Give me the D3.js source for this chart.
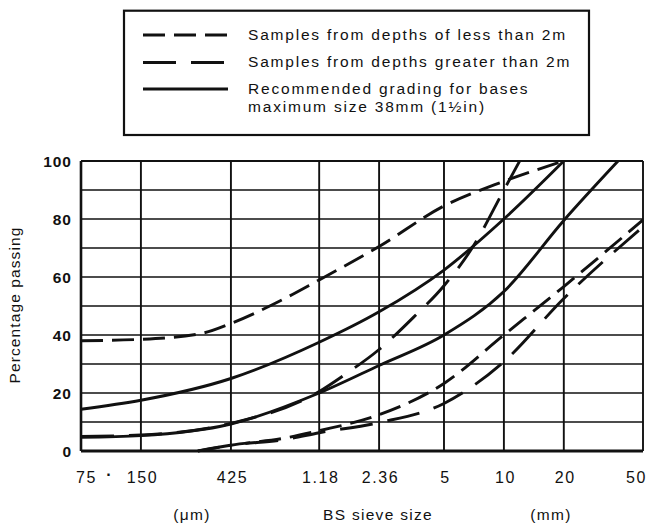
<!DOCTYPE html>
<html><head><meta charset="utf-8">
<script src="https://cdn.jsdelivr.net/npm/d3@7"></script>
<style>
body{margin:0;background:#fff}
svg{display:block}
text{font-family:"Liberation Sans",Arial,Helvetica,sans-serif;fill:#111}
</style>
</head><body><svg id="c" width="647" height="523"></svg>
<script>
// ---- data ----
const sieveSizes = [0.075, 0.15, 0.425, 1.18, 2.36, 5, 10, 20, 50];
const sieveLabels = ["75", "150", "425", "1.18", "2.36", "5", "10", "20", "50"];
const yTickValues = [0, 20, 40, 60, 80, 100];
const yGridValues = [0, 10, 20, 30, 40, 50, 60, 70, 80, 90, 100];

const lessUpperSize = [0.075, 0.15, 0.3, 0.425, 0.69, 1.18, 2.36, 5, 10, 20];
const lessUpperPct  = [38, 38.5, 40.5, 44, 50.5, 59, 70.5, 84.5, 93, 100];
const lessLowerSize = [0.29, 0.425, 0.8, 1.18, 2.36, 5, 10, 20, 50];
const lessLowerPct  = [0, 2, 4.5, 7, 12.5, 23.3, 40, 56.7, 79.7];

const greaterSteepSize = [0.075, 0.15, 0.425, 1.18, 1.6, 2.36, 3.5, 5, 7, 10, 12];
const greaterSteepPct  = [5, 5.5, 9.5, 20.5, 26.5, 35, 46, 57, 70.5, 90, 100];
const greaterLowerSize = [0.29, 0.425, 0.8, 1.18, 2.36, 5, 10, 20, 50];
const greaterLowerPct  = [0, 2, 4, 6.3, 9.8, 16.4, 30.8, 52.6, 77.3];

const recUpperSize = [0.075, 0.15, 0.425, 1.18, 2.36, 5, 10, 20];
const recUpperPct  = [14.4, 17.5, 25, 37.5, 48, 62.4, 80, 100];
const recLowerSize = [0.075, 0.15, 0.425, 1.18, 2.36, 5, 10, 20, 37.5];
const recLowerPct  = [4.7, 5.3, 9.3, 20, 29.5, 40, 55, 79.5, 100];

const legendLabels = [
  ["Samples from depths of less than 2m"],
  ["Samples from depths greater than 2m"],
  ["Recommended grading for bases", "maximum size 38mm (1\u00BDin)"]
];
const yTitle = "Percentage passing";
const xTitle = "BS sieve size";
const unitLeft = "(\u03BCm)";
const unitRight = "(mm)";

// ---- styles ----
const SHORT = "22,9", LONG = "33,15";
const svg = d3.select("#c");

const x = d3.scaleLog().domain([0.075, 50]).range([81, 643]);
const y = d3.scaleLinear().domain([0, 100]).range([451, 161]);

// grid
const g = svg.append("g");
g.selectAll("line.h").data(yGridValues).enter().append("line")
  .attr("x1", x(0.075)).attr("x2", x(50))
  .attr("y1", d => y(d)).attr("y2", d => y(d))
  .attr("stroke", "#111").attr("stroke-width", d => d === 0 ? 2.8 : (d === 100 ? 2 : 1.7));
g.selectAll("line.v").data(sieveSizes).enter().append("line")
  .attr("x1", d => x(d)).attr("x2", d => x(d))
  .attr("y1", y(0)).attr("y2", y(100))
  .attr("stroke", "#111").attr("stroke-width", (d, i) => (i === 0) ? 2.6 : 1.9);

// curves
const line = d3.line().x(d => x(d[0])).y(d => y(d[1])).curve(d3.curveMonotoneX);
const series = [
  [lessUpperSize, lessUpperPct, SHORT],
  [lessLowerSize, lessLowerPct, SHORT],
  [greaterSteepSize, greaterSteepPct, LONG],
  [greaterLowerSize, greaterLowerPct, LONG],
  [recUpperSize, recUpperPct, null],
  [recLowerSize, recLowerPct, null]
];
series.forEach(([s, p, dash]) => {
  const path = svg.append("path")
    .attr("d", line(s.map((v, i) => [v, p[i]])))
    .attr("fill", "none").attr("stroke", "#111").attr("stroke-width", 2.9);
  if (dash) path.attr("stroke-dasharray", dash);
});

// y axis labels
const yAxis = svg.append("g").attr("transform", `translate(${x(0.075) - 9},0)`)
  .call(d3.axisLeft(y).tickValues(yTickValues).tickSize(0).tickPadding(0));
yAxis.select(".domain").remove();
yAxis.selectAll("text").attr("font-size", 15.5).attr("letter-spacing", 1).attr("font-weight", "bold")
  .attr("dy", "0.36em").style("font-family", '"Liberation Sans",Arial,sans-serif').attr("fill", "#111");

// x axis labels
const xAxis = svg.append("g").attr("transform", `translate(0,${y(0)})`)
  .call(d3.axisBottom(x).tickValues(sieveSizes).tickFormat((d, i) => sieveLabels[i]).tickSize(0).tickPadding(0));
xAxis.select(".domain").remove();
xAxis.selectAll("text").attr("font-size", 16).attr("letter-spacing", 1.6)
  .attr("y", 32).attr("dy", 0).style("font-family", '"Liberation Sans",Arial,sans-serif').attr("fill", "#111")
  .attr("dx", (d, i) => i === 0 ? 5 : (i === sieveSizes.length - 1 ? -7 : 1));
svg.append("text").attr("x", (x(0.075) + x(0.15)) / 2 - 2).attr("y", 480).attr("text-anchor", "middle")
  .attr("font-size", 16).attr("font-weight", "bold").text("\u00B7");

// axis titles
svg.append("text").attr("transform", "translate(20,305) rotate(-90)").attr("text-anchor", "middle")
  .attr("font-size", 15.5).attr("letter-spacing", 1.1).text(yTitle);
svg.append("text").attr("x", 378).attr("y", 520).attr("text-anchor", "middle")
  .attr("font-size", 15.5).attr("letter-spacing", 1.3).text(xTitle);
svg.append("text").attr("x", 192).attr("y", 520).attr("text-anchor", "middle")
  .attr("font-size", 15.5).attr("letter-spacing", 1.3).text(unitLeft);
svg.append("text").attr("x", 551).attr("y", 520).attr("text-anchor", "middle")
  .attr("font-size", 15.5).attr("letter-spacing", 1.3).text(unitRight);

// legend
const lg = svg.append("g");
lg.append("rect").attr("x", 124).attr("y", 10.7).attr("width", 465).attr("height", 124.3)
  .attr("fill", "none").attr("stroke", "#111").attr("stroke-width", 2.2);
const legendDash = [SHORT, LONG, null];
const legendY = [35, 62.5, 89];
legendLabels.forEach((lines, i) => {
  const l = lg.append("line").attr("x1", 143).attr("x2", 228)
    .attr("y1", legendY[i]).attr("y2", legendY[i])
    .attr("stroke", "#111").attr("stroke-width", 2.8);
  if (legendDash[i]) l.attr("stroke-dasharray", legendDash[i]);
  lines.forEach((t, j) => {
    lg.append("text").attr("x", 248).attr("y", legendY[i] + 4.8 + j * 18.5)
      .attr("font-size", 15.5).attr("letter-spacing", 1.8).text(t);
  });
});
</script>
</body></html>
